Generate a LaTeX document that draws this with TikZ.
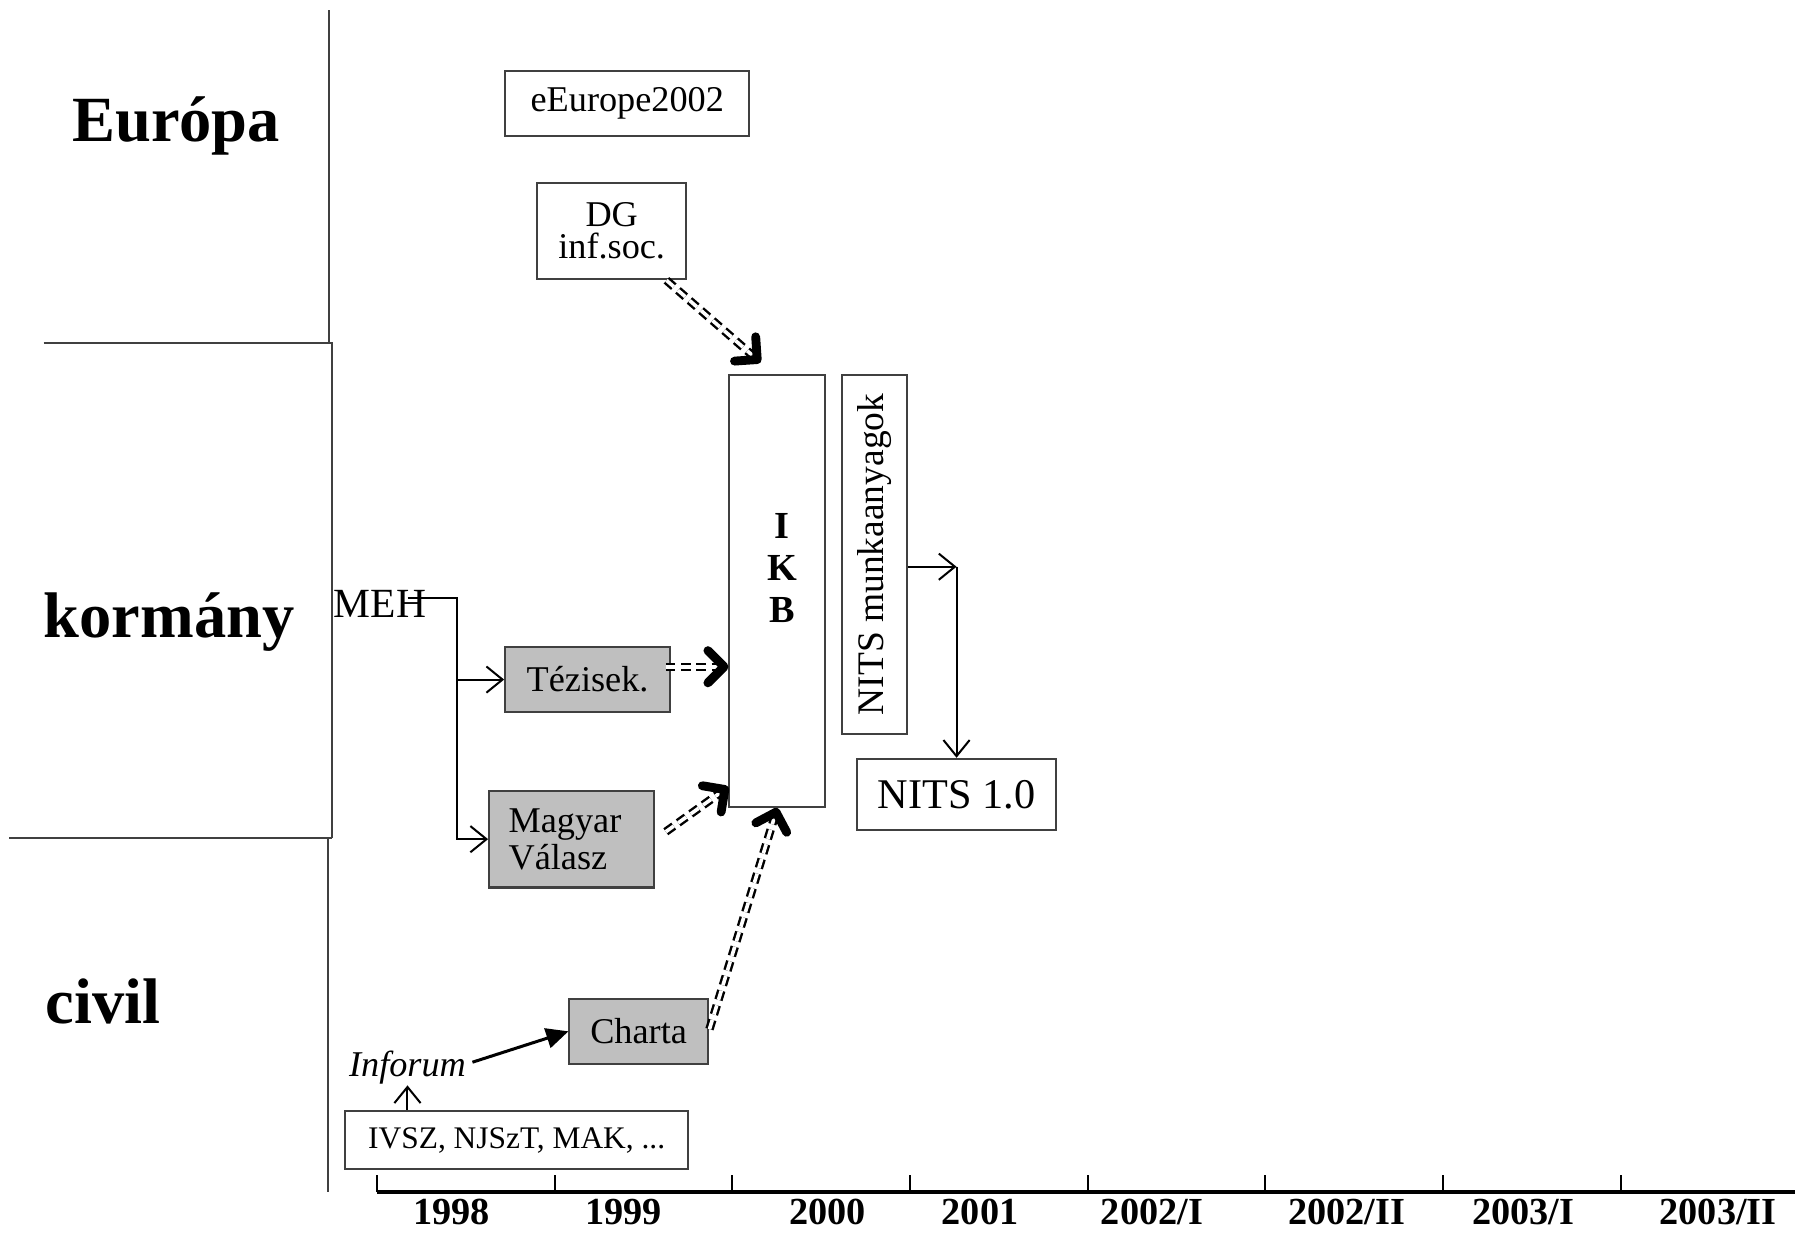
\documentclass[tikz,border=0pt]{standalone}
\usepackage{fontspec}
\setmainfont{Liberation Serif}
\usepackage{graphicx}
\usetikzlibrary{arrows.meta}

\begin{document}
\begin{tikzpicture}[
    box/.style={draw=black!75, line width=0.5pt, inner sep=0pt, align=center, font=\fontsize{9}{8}\selectfont},
    greybox/.style={box, fill=black!25},
    heading/.style={font=\fontsize{16}{18}\selectfont\bfseries, anchor=base, inner sep=0pt},
    year/.style={font=\fontsize{9.5}{11}\selectfont\bfseries, anchor=base, inner sep=0pt},
    sep/.style={black!75, line width=0.5pt},
    link/.style={line width=0.5pt, -{Straight Barb[length=4pt,width=6.5pt]}},
    influence/.style={double, double distance=0.9pt, line width=0.6pt, dash pattern=on 2.4pt off 1.4pt,
        -{Straight Barb[length=4pt,width=8pt,line width=2.2pt,round]}}
]
    \useasboundingbox (0,0) rectangle (15.66,10.75);

    % Row headings and separators
    \node[heading] (europa) at (1.536,9.514) {Európa};
    \node[heading] (kormany) at (1.475,5.19) {kormány};
    \node[heading] (civil) at (0.90,1.82) {civil};
    \draw[sep] (2.870,10.66) -- (2.870,7.755);
    \draw[sep] (0.380,7.755) -- (2.894,7.755) -- (2.894,3.435);
    \draw[sep] (0.080,3.435) -- (2.894,3.435);
    \draw[sep] (2.865,3.435) -- (2.865,0.35);

    % Time axis
    \draw[line width=0.8pt] (3.29,0.35) -- (15.66,0.35);
    \draw[line width=0.5pt] (3.29,0.35) -- ++(0,0.15) (4.84,0.35) -- ++(0,0.15)
        (6.39,0.35) -- ++(0,0.15) (7.94,0.35) -- ++(0,0.15) (9.49,0.35) -- ++(0,0.15)
        (11.04,0.35) -- ++(0,0.15) (12.59,0.35) -- ++(0,0.15) (14.14,0.35) -- ++(0,0.15);
    \node[year] (y1998) at (3.94,0.07) {1998};
    \node[year] (y1999) at (5.44,0.07) {1999};
    \node[year] (y2000) at (7.22,0.07) {2000};
    \node[year] (y2001) at (8.55,0.07) {2001};
    \node[year] (y2002a) at (10.05,0.07) {2002/I};
    \node[year] (y2002b) at (11.75,0.07) {2002/II};
    \node[year] (y2003a) at (13.29,0.07) {2003/I};
    \node[year] (y2003b) at (14.99,0.07) {2003/II};

    % Europa
    \node[box, minimum width=2.125cm, minimum height=0.57cm] (eeurope) at (5.4725,9.848) {eEurope2002};
    \node[box, minimum width=1.303cm, minimum height=0.843cm] (dg) at (5.3365,8.7345) {DG\\inf.soc.};

    % kormany
    \node[box, minimum width=0.835cm, minimum height=3.77cm,
        label={[font=\fontsize{9.5}{10.5}\selectfont\bfseries, align=center, shift={(0.04,0.2)}]center:{I\\K\\B}}]
        (ikb) at (6.7815,5.595) {};
    \node[box, minimum width=0.566cm, minimum height=3.135cm, font=\fontsize{9.3}{10}\selectfont]
        (munk) at (7.627,5.9125) {\rotatebox{90}{NITS munkaanyagok}};
    \node[box, minimum width=1.73cm, minimum height=0.62cm, font=\fontsize{10.5}{12}\selectfont]
        (nits) at (8.345,3.82) {NITS 1.0};
    \node[font=\fontsize{10.3}{12}\selectfont, inner sep=0pt, anchor=base] (meh) at (3.316,5.36) {MEH};
    \node[greybox, minimum width=1.439cm, minimum height=0.568cm] (tezisek) at (5.1265,4.821) {Tézisek.};
    \node[greybox, align=left, text width=1.1cm, inner xsep=0.17cm, minimum height=0.843cm]
        (valasz) at (4.987,3.4285) {Magyar\\Válasz};

    % civil
    \node[greybox, minimum width=1.207cm, minimum height=0.562cm] (charta) at (5.5715,1.752) {Charta};
    \node[font=\fontsize{9}{10}\selectfont\itshape, inner sep=0pt, anchor=base] (inforum) at (3.555,1.355) {Inforum};
    \node[box, minimum width=2.996cm, minimum height=0.511cm, font=\fontsize{7.8}{9}\selectfont]
        (ivsz) at (4.508,0.8025) {IVSZ, NJSzT, MAK, ...};

    % MEH branches
    \coordinate (mehout) at ([shift={(-0.17,0.055)}]meh.east);
    \coordinate (fork) at ([shift={(0.26,0.055)}]meh.east);
    \draw[link] (mehout) -- (fork) |- (valasz.west);
    \draw[link] (fork |- tezisek.west) -- (tezisek.west);

    % NITS
    \coordinate (munkout) at ([yshift=-0.107cm]munk.east);
    \draw[link] (munkout) -- (munkout -| nits.north);
    \draw[link] (munkout -| nits.north) -- (nits.north);

    % civil links
    \draw[link] (inforum.south |- ivsz.north) -- (inforum.south);
    \draw[line width=0.75pt, -{Triangle[length=5.5pt,width=5pt]}] ([shift={(0.05,0.05)}]inforum.east) -- (charta.west);

    % influence arrows into IKB
    \draw[influence, shorten >=0.15cm] (dg.318) -- (ikb.91);
    \draw[influence] ([shift={(-0.046,0.112)}]tezisek.east) -- ([yshift=0.112cm]tezisek.east -| ikb.west);
    \draw[influence] ([shift={(0.093,0.065)}]valasz.east) -- (ikb.256);
    \draw[influence, shorten <=0.02cm] (charta.east) -- (ikb.south);
\end{tikzpicture}
\end{document}
